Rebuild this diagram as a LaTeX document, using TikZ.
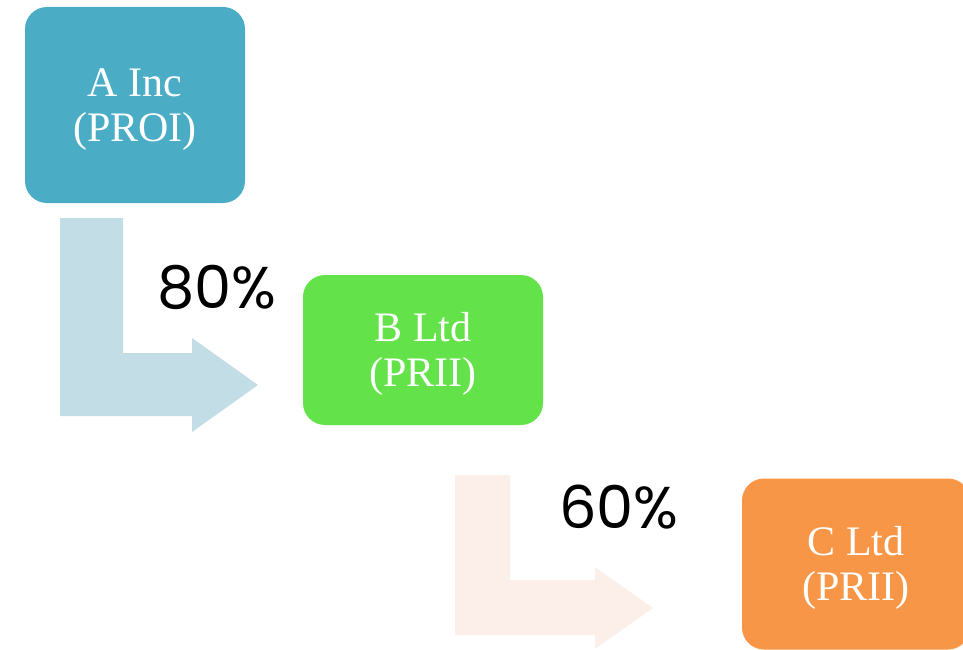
\documentclass[tikz,border=0pt]{standalone}
\usepackage{fontspec}
\setmainfont{Liberation Serif}
\newfontfamily\pctfont{Poppins}
\definecolor{aqua}{HTML}{4BACC6}
\definecolor{lime}{HTML}{63E24A}
\definecolor{orangeacc}{HTML}{F79646}
\definecolor{paleblue}{HTML}{C2DDE5}
\definecolor{palepeach}{HTML}{FCEFEA}
\newcommand{\toppad}{\rule{0pt}{36pt}}
\tikzset{
  company/.style={rounded corners=22pt, text=white, align=center,
    font=\fontsize{42}{45}\selectfont, inner sep=0pt},
  share/.style={font=\pctfont\fontsize{59}{62}\selectfont, text=black}
}
\begin{document}
\begin{tikzpicture}[x=1pt,y=-1pt]
  \useasboundingbox (0,0) rectangle (963,650);
  \clip (0,0) rectangle (963,650);

  \fill[paleblue] (60,218) -- (123,218) -- (123,353) -- (192,353) -- (192,338)
    -- (258,385) -- (192,432) -- (192,416) -- (60,416) -- cycle;
  \fill[palepeach] (455,475) -- (510,475) -- (510,580) -- (595,580) -- (595,567)
    -- (653,608) -- (595,649) -- (595,635) -- (455,635) -- cycle;

  \node[company, fill=aqua, minimum width=220pt, minimum height=196pt] (ainc) at (135,105) {\toppad A Inc\\(PROI)};
  \node[company, fill=lime, minimum width=240pt, minimum height=150pt] (bltd) at (423,350) {\toppad B Ltd\\(PRII)};
  \node[company, fill=orangeacc, minimum width=228pt, minimum height=171pt] (cltd) at (856,564) {\toppad C Ltd\\(PRII)};

  \node[share] (ab) at (217,287) {80\%};
  \node[share] (bc) at (619,507) {60\%};

\end{tikzpicture}
\end{document}
